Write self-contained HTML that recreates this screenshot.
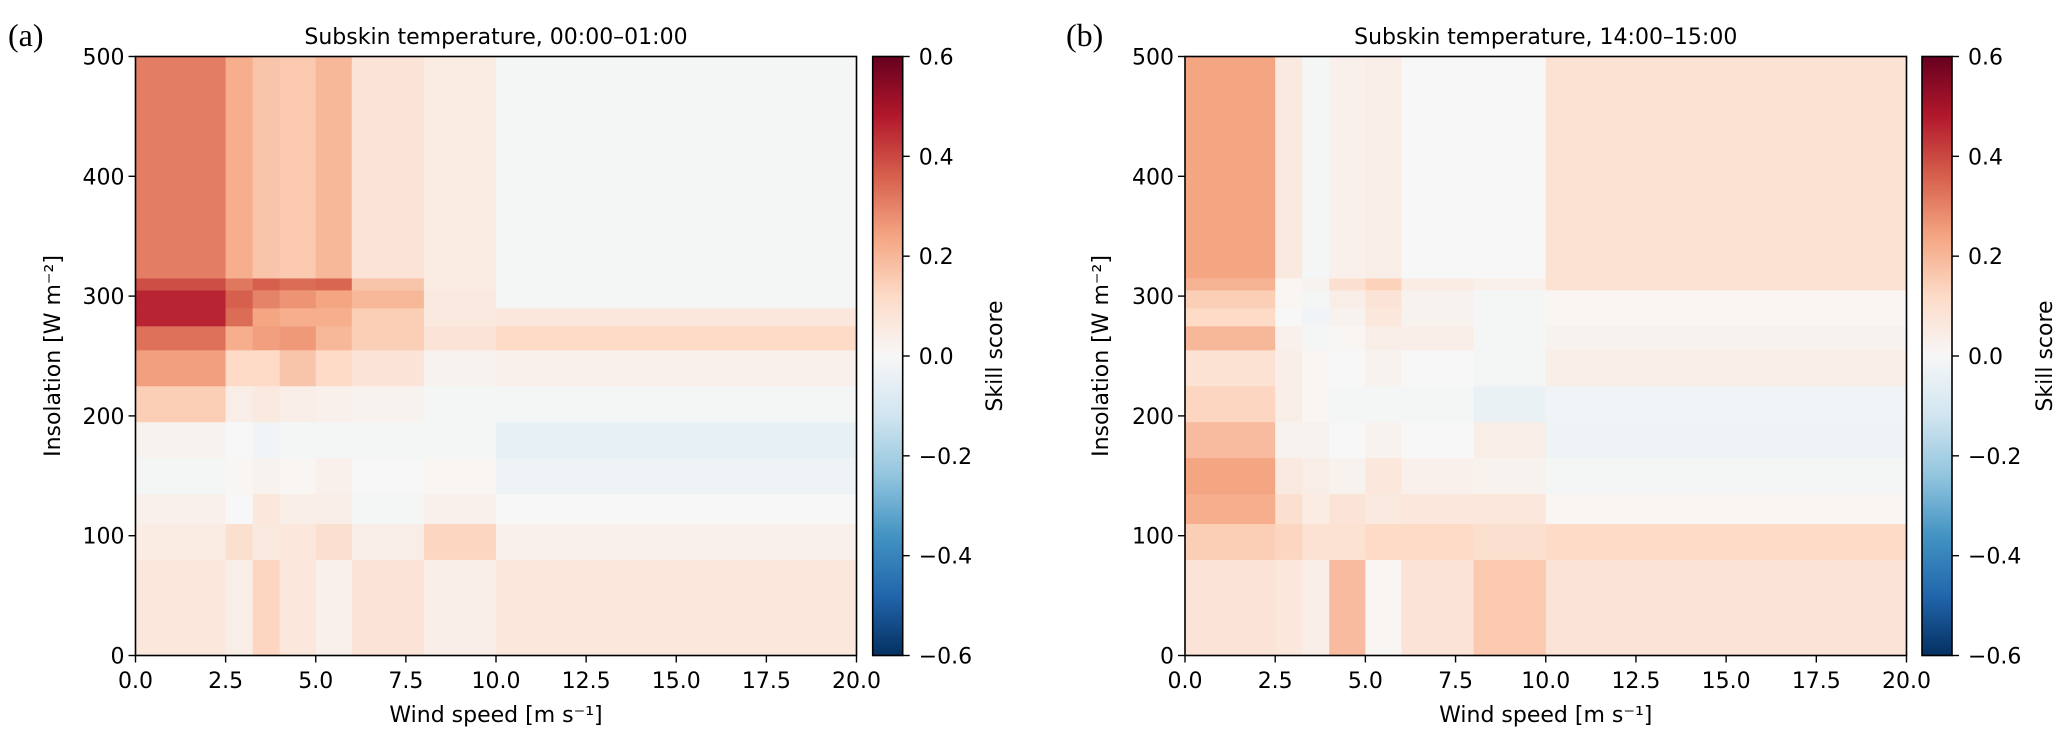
<!DOCTYPE html>
<html><head><meta charset="utf-8">
<style>
html,body{margin:0;padding:0;background:#fff;}
svg{display:block;font-family:"DejaVu Sans","Liberation Sans",sans-serif;}
</style></head>
<body>
<svg id="fig" width="2067" height="741" viewBox="0 0 2067 741" xmlns="http://www.w3.org/2000/svg">
<defs>
<linearGradient id="cbgrad" x1="0" y1="1" x2="0" y2="0">
<stop offset="0" stop-color="#053061"/><stop offset="0.1" stop-color="#2166ac"/><stop offset="0.2" stop-color="#4393c3"/><stop offset="0.3" stop-color="#92c5de"/><stop offset="0.4" stop-color="#d1e5f0"/><stop offset="0.5" stop-color="#f7f7f7"/><stop offset="0.6" stop-color="#fddbc7"/><stop offset="0.7" stop-color="#f4a582"/><stop offset="0.8" stop-color="#d6604d"/><stop offset="0.9" stop-color="#b2182b"/><stop offset="1" stop-color="#67001f"/>
</linearGradient>
</defs>
</svg>
<script>
// Bin edges
const windEdges = [0, 2.5, 3.25, 4, 5, 6, 8, 10, 20];
const insolEdges = [0, 80, 110, 135, 165, 195, 225, 255, 275, 290, 305, 315, 500];
const xTicks = [0, 2.5, 5, 7.5, 10, 12.5, 15, 17.5, 20];
const xTickLabels = ["0.0","2.5","5.0","7.5","10.0","12.5","15.0","17.5","20.0"];
const yTicks = [0, 100, 200, 300, 400, 500];
const yTickLabels = ["0","100","200","300","400","500"];
const cbTicks = [-0.6, -0.4, -0.2, 0, 0.2, 0.4, 0.6];
const cbTickLabels = ["\u22120.6","\u22120.4","\u22120.2","0.0","0.2","0.4","0.6"];
// Skill scores, rows from bottom (0-80) to top (315-500), columns by wind bin
const skillA = [
 [0.07,0.04,0.13,0.07,0.03,0.08,0.04,0.07],
 [0.05,0.10,0.06,0.07,0.10,0.04,0.13,0.03],
 [0.03,0.00,0.07,0.04,0.04,-0.01,0.03,0.00],
 [-0.01,0.01,0.02,0.01,0.03,0.00,0.01,-0.03],
 [0.02,0.00,-0.02,-0.01,-0.01,-0.01,-0.01,-0.05],
 [0.15,0.04,0.06,0.04,0.03,0.02,-0.01,-0.01],
 [0.25,0.12,0.12,0.17,0.12,0.08,0.02,0.03],
 [0.33,0.22,0.25,0.26,0.20,0.15,0.08,0.12],
 [0.46,0.34,0.24,0.22,0.22,0.15,0.06,0.07],
 [0.46,0.36,0.30,0.27,0.24,0.20,0.06,-0.01],
 [0.39,0.32,0.36,0.34,0.35,0.17,0.05,-0.01],
 [0.31,0.22,0.17,0.16,0.20,0.08,0.05,-0.01]
];
const skillB = [
 [0.08,0.07,0.04,0.19,0.01,0.08,0.16,0.08],
 [0.15,0.13,0.09,0.09,0.12,0.12,0.10,0.12],
 [0.22,0.10,0.05,0.08,0.06,0.07,0.07,0.01],
 [0.24,0.06,0.04,0.02,0.07,0.03,0.02,-0.01],
 [0.19,0.02,0.02,0.00,0.02,0.00,0.04,-0.03],
 [0.13,0.04,0.01,-0.01,-0.01,-0.01,-0.04,-0.02],
 [0.09,0.04,0.01,0.00,0.02,0.00,-0.01,0.04],
 [0.20,0.03,-0.01,0.01,0.04,0.04,-0.01,0.02],
 [0.12,0.00,-0.02,0.02,0.07,0.02,-0.01,0.01],
 [0.15,0.01,-0.01,0.04,0.08,0.02,-0.01,0.01],
 [0.21,0.01,0.02,0.10,0.14,0.05,0.03,0.09],
 [0.24,0.06,-0.01,0.03,0.04,0.00,0.00,0.09]
];
const titles = ["Subskin temperature, 00:00\u201301:00","Subskin temperature, 14:00\u201315:00"];
const panelLetters = ["(a)","(b)"];

const NS = "http://www.w3.org/2000/svg";
const svg = document.getElementById('fig');
const anchors = ["#053061","#2166ac","#4393c3","#92c5de","#d1e5f0","#f7f7f7","#fddbc7","#f4a582","#d6604d","#b2182b","#67001f"].map(h=>[parseInt(h.substr(1,2),16),parseInt(h.substr(3,2),16),parseInt(h.substr(5,2),16)]);
function cmap(v){
  let t=(v+0.6)/1.2; t=Math.max(0,Math.min(1,t))*10;
  let i=Math.min(9,Math.floor(t)), f=t-i;
  const a=anchors[i], b=anchors[i+1];
  return "rgb("+a.map((c,k)=>Math.round(c+(b[k]-c)*f)).join(",")+")";
}
function mk(tag, attrs, parent){
  const e=document.createElementNS(NS,tag);
  for(const k in attrs) e.setAttribute(k,attrs[k]);
  (parent||svg).appendChild(e); return e;
}
const panels = [
  {x0:135.5, x1:856.5, cb0:872.7, cb1:902.7, letterX:8, ylabX:60, cblabX:1002, data:skillA},
  {x0:1185, x1:1906.5, cb0:1922, cb1:1952, letterX:1066, ylabX:1108, cblabX:2052, data:skillB}
];
const yTop=56.5, yBot=655.5;
panels.forEach((p,pi)=>{
  const g=mk('g',{});
  
  
  const sx=v=>p.x0+(v-0)/(20-0)*(p.x1-p.x0);
  const sy=v=>yBot-(v-0)/(500-0)*(yBot-yTop);
  const hm=mk('g',{},g);
  
  
  p.data.forEach((row,ri)=>{
    row.forEach((val,ci)=>{
      const x=sx(windEdges[ci]), x2=sx(windEdges[ci+1]);
      const y=sy(insolEdges[ri+1]), y2=sy(insolEdges[ri]);
      const r=mk('rect',{x:x,y:y,width:x2-x+0.3,height:y2-y+0.3,fill:cmap(val)},hm);
      
      
    });
  });
  const frame=mk('rect',{x:p.x0,y:yTop,width:p.x1-p.x0,height:yBot-yTop,fill:'none',stroke:'#000','stroke-width':1.6},g);
  
  
  xTicks.forEach((t,i)=>{
    const x=sx(t);
    mk('line',{x1:x,x2:x,y1:yBot,y2:yBot+7,stroke:'#000','stroke-width':1.4},g);
    const tx=mk('text',{x:x,y:688,'font-size':22,'text-anchor':'middle'},g);
    tx.textContent=xTickLabels[i];
    
    
  });
  yTicks.forEach((t,i)=>{
    const y=sy(t);
    mk('line',{x1:p.x0-7,x2:p.x0,y1:y,y2:y,stroke:'#000','stroke-width':1.4},g);
    const tx=mk('text',{x:p.x0-11,y:y+8,'font-size':22,'text-anchor':'end'},g);
    tx.textContent=yTickLabels[i];
    
    
  });
  const xl=mk('text',{x:(p.x0+p.x1)/2,y:722,'font-size':22,'text-anchor':'middle'},g);
  xl.textContent='Wind speed [m s\u207b\u00b9]';
  
  
  const yl=mk('text',{x:0,y:0,'font-size':22,'text-anchor':'middle',transform:'translate('+p.ylabX+','+((yTop+yBot)/2)+') rotate(-90)'},g);
  yl.textContent='Insolation [W m\u207b\u00b2]';
  
  
  const tt=mk('text',{x:(p.x0+p.x1)/2,y:44,'font-size':22,'text-anchor':'middle'},g);
  tt.textContent=titles[pi];
  
  
  const lt=mk('text',{x:p.letterX,y:46,'font-size':32,'font-family':'"Liberation Serif",serif'},g);
  lt.textContent=panelLetters[pi];
  
  
  const cb=mk('g',{},g);
  
  
  mk('rect',{x:p.cb0,y:yTop,width:p.cb1-p.cb0,height:yBot-yTop,fill:'url(#cbgrad)',stroke:'#000','stroke-width':1.6},cb);
  const sc=v=>yBot-(v+0.6)/1.2*(yBot-yTop);
  cbTicks.forEach((t,i)=>{
    const y=sc(t);
    mk('line',{x1:p.cb1,x2:p.cb1+7,y1:y,y2:y,stroke:'#000','stroke-width':1.4},cb);
    const tx=mk('text',{x:p.cb1+16,y:y+8,'font-size':22},cb);
    tx.textContent=cbTickLabels[i];
    
    
  });
  const cl=mk('text',{x:0,y:0,'font-size':22,'text-anchor':'middle',transform:'translate('+p.cblabX+','+((yTop+yBot)/2)+') rotate(-90)'},cb);
  cl.textContent='Skill score';
  
  
});
</script>
</body></html>
